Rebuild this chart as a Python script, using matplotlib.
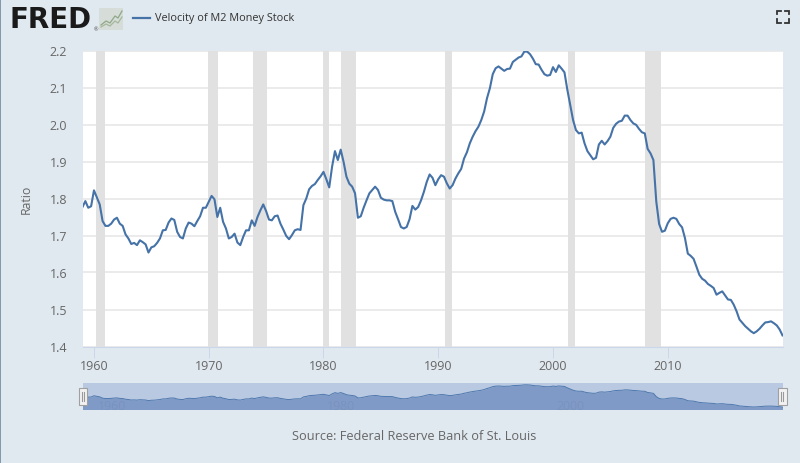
import matplotlib
matplotlib.use("Agg")
import matplotlib.pyplot as plt
from matplotlib.patches import Rectangle

plt.rcParams['font.family'] = ['Open Sans', 'DejaVu Sans']

# 季度数据，从 1959 Q1 开始
START_YEAR = 1959
velocity = [
    1.777, 1.793, 1.775, 1.779, 1.822, 1.803, 1.784, 1.739, 1.726, 1.726,
    1.732, 1.743, 1.748, 1.732, 1.726, 1.703, 1.692, 1.677, 1.680, 1.674,
    1.687, 1.682, 1.676, 1.654, 1.668, 1.671, 1.680, 1.692, 1.714, 1.715,
    1.735, 1.746, 1.742, 1.710, 1.696, 1.692, 1.719, 1.735, 1.732, 1.725,
    1.739, 1.752, 1.775, 1.775, 1.791, 1.807, 1.798, 1.750, 1.775, 1.737,
    1.719, 1.692, 1.696, 1.705, 1.681, 1.674, 1.696, 1.714, 1.714, 1.741,
    1.726, 1.750, 1.768, 1.784, 1.766, 1.743, 1.741, 1.752, 1.754, 1.732,
    1.716, 1.699, 1.690, 1.701, 1.714, 1.717, 1.715, 1.782, 1.800, 1.825,
    1.834, 1.839, 1.850, 1.860, 1.872, 1.852, 1.830, 1.886, 1.928, 1.904,
    1.932, 1.899, 1.859, 1.840, 1.832, 1.814, 1.748, 1.752, 1.775, 1.795,
    1.814, 1.823, 1.832, 1.823, 1.802, 1.797, 1.795, 1.795, 1.793, 1.764,
    1.744, 1.723, 1.719, 1.723, 1.744, 1.780, 1.770, 1.777, 1.795, 1.818,
    1.845, 1.865, 1.856, 1.836, 1.852, 1.863, 1.859, 1.841, 1.827, 1.836,
    1.854, 1.868, 1.880, 1.908, 1.925, 1.949, 1.967, 1.982, 1.994, 2.012,
    2.035, 2.071, 2.098, 2.136, 2.152, 2.157, 2.151, 2.145, 2.150, 2.151,
    2.169, 2.175, 2.181, 2.184, 2.197, 2.197, 2.190, 2.178, 2.163, 2.162,
    2.148, 2.136, 2.132, 2.134, 2.155, 2.142, 2.160, 2.151, 2.141, 2.094,
    2.053, 2.012, 1.985, 1.976, 1.978, 1.949, 1.928, 1.917, 1.906, 1.910,
    1.946, 1.956, 1.946, 1.955, 1.967, 1.991, 2.002, 2.008, 2.010, 2.024,
    2.024, 2.012, 2.003, 1.999, 1.988, 1.979, 1.976, 1.934, 1.922, 1.904,
    1.792, 1.731, 1.710, 1.713, 1.733, 1.745, 1.748, 1.745, 1.731, 1.722,
    1.693, 1.651, 1.645, 1.637, 1.616, 1.594, 1.583, 1.578, 1.569, 1.564,
    1.558, 1.540, 1.545, 1.549, 1.538, 1.527, 1.526, 1.513, 1.495, 1.473,
    1.464, 1.455, 1.448, 1.441, 1.436, 1.441, 1.448, 1.457, 1.465, 1.466,
    1.468, 1.463, 1.457, 1.446, 1.430,
]
recessions = [
    (1960.2, 1961.0), (1969.9, 1970.8), (1973.83, 1975.08), (1980.0, 1980.52),
    (1981.5, 1982.85), (1990.57, 1991.2), (2001.32, 2001.95), (2008.0, 2009.45),
]
x_ticks = [1960, 1970, 1980, 1990, 2000, 2010]
y_ticks = [1.4, 1.5, 1.6, 1.7, 1.8, 1.9, 2.0, 2.1, 2.2]
nav_labels = [1960, 1980, 2000]
series_name = "Velocity of M2 Money Stock"
source_text = "Source: Federal Reserve Bank of St. Louis"

BG = '#e1e9f0'
LINE = '#4572a7'
TEXT = '#666666'
W, H = 800, 464

years = [START_YEAR + i / 4 for i in range(len(velocity))]


def px_axes(fig, left, top, right, bottom, **kwargs):
    # 按像素坐标建 axes
    return fig.add_axes([left / W, 1 - bottom / H, (right - left) / W, (bottom - top) / H], **kwargs)


fig = plt.figure(figsize=(W / 100, H / 100), dpi=100, facecolor=BG)

# 主图
ax = px_axes(fig, 82.5, 51.5, 782.5, 347.5)
ax.set_facecolor('white')
ax.set_xlim(START_YEAR, 2020)
ax.set_ylim(1.4, 2.2)
ax.grid(axis='y', color='#e6e6e6', linewidth=1.1, zorder=1)
ax.set_axisbelow(True)
for start, end in recessions:
    ax.axvspan(start, end, color='#e1e1e1', linewidth=0, zorder=2)
ax.plot(years, velocity, color=LINE, linewidth=1.5, zorder=3, solid_joinstyle='round')
for side in ['top', 'left', 'right']:
    ax.spines[side].set_visible(False)
ax.spines['bottom'].set_color('#ccd6eb')
ax.set_xticks(x_ticks)
ax.set_yticks(y_ticks)
ax.set_yticklabels([f'{v:.1f}' for v in y_ticks])
ax.tick_params(axis='x', length=8, width=0.7, color='#ccd6eb', labelcolor=TEXT, labelsize=9, pad=1)
ax.tick_params(axis='y', length=0, labelcolor=TEXT, labelsize=9, pad=11)
ax.set_ylabel('Ratio', color=TEXT, fontsize=8.8, labelpad=12)

# 底部导航条
nav = px_axes(fig, 82.5, 384, 782.5, 410.5)
nav.set_facecolor('#b9c9e2')
nav.set_xlim(START_YEAR, 2020)
nav.set_ylim(1.35, 2.26)
nav.fill_between(years, velocity, 1.35, color='#7f9ac6', linewidth=0)
nav.plot(years, velocity, color='#4f78ad', linewidth=0.7)
for year in nav_labels:
    nav.text(year + 1.55, 1.5, str(year), color='#7a93be', fontsize=8.8, ha='center', va='center')
nav.set_xticks([])
nav.set_yticks([])
for spine in nav.spines.values():
    spine.set_visible(False)

# 其余装饰用一个像素坐标的全幅 axes
top = fig.add_axes([0, 0, 1, 1], facecolor='none')
top.set_xlim(0, W)
top.set_ylim(H, 0)
top.axis('off')

top.add_patch(Rectangle((0, 0), 1.2, H, color='#8499ab', linewidth=0))

# 导航条手柄
for left in [78.5, 778]:
    top.add_patch(Rectangle((left, 389), 8.5, 17, facecolor='#f2f2f2', edgecolor='#a0a0a0', linewidth=0.8))
    for offset in [3.2, 5.3]:
        top.plot([left + offset, left + offset], [393, 402], color='#999999', linewidth=0.8)

# 图例
top.plot([133, 150], [19, 19], color=LINE, linewidth=1.6)
top.text(155, 18.2, series_name, color='#333333', fontsize=7.8, ha='left', va='center')

# FRED 标志
top.text(10, 20.5, 'FRED', color='#1a1a1a', fontsize=20, fontweight='bold', ha='left', va='center',
         family='DejaVu Sans')
top.text(93.5, 30, '®', color='#444444', fontsize=4, ha='left', va='center')
top.add_patch(Rectangle((99, 9), 24, 22, color='#d6dcd8', linewidth=0))
top.plot([101, 106, 110, 115, 118, 122], [26, 22, 24, 17, 19, 12], color='#8fa888', linewidth=0.9)
top.plot([101, 106, 110, 115, 118, 122], [28, 25, 27, 22, 24, 18], color='#a4b89c', linewidth=0.9)

# 全屏图标
corners = [
    ([777, 777, 781], [15, 12, 12]), ([785, 789, 789], [12, 12, 15]),
    ([777, 777, 781], [20, 24, 24]), ([785, 789, 789], [24, 24, 20]),
]
for xs, ys in corners:
    top.plot(xs, ys, color='#333333', linewidth=1.3, solid_joinstyle='miter')

top.text(414, 437, source_text, color=TEXT, fontsize=9.2, ha='center', va='center')

fig.savefig('out.png', dpi=100, facecolor=BG)
